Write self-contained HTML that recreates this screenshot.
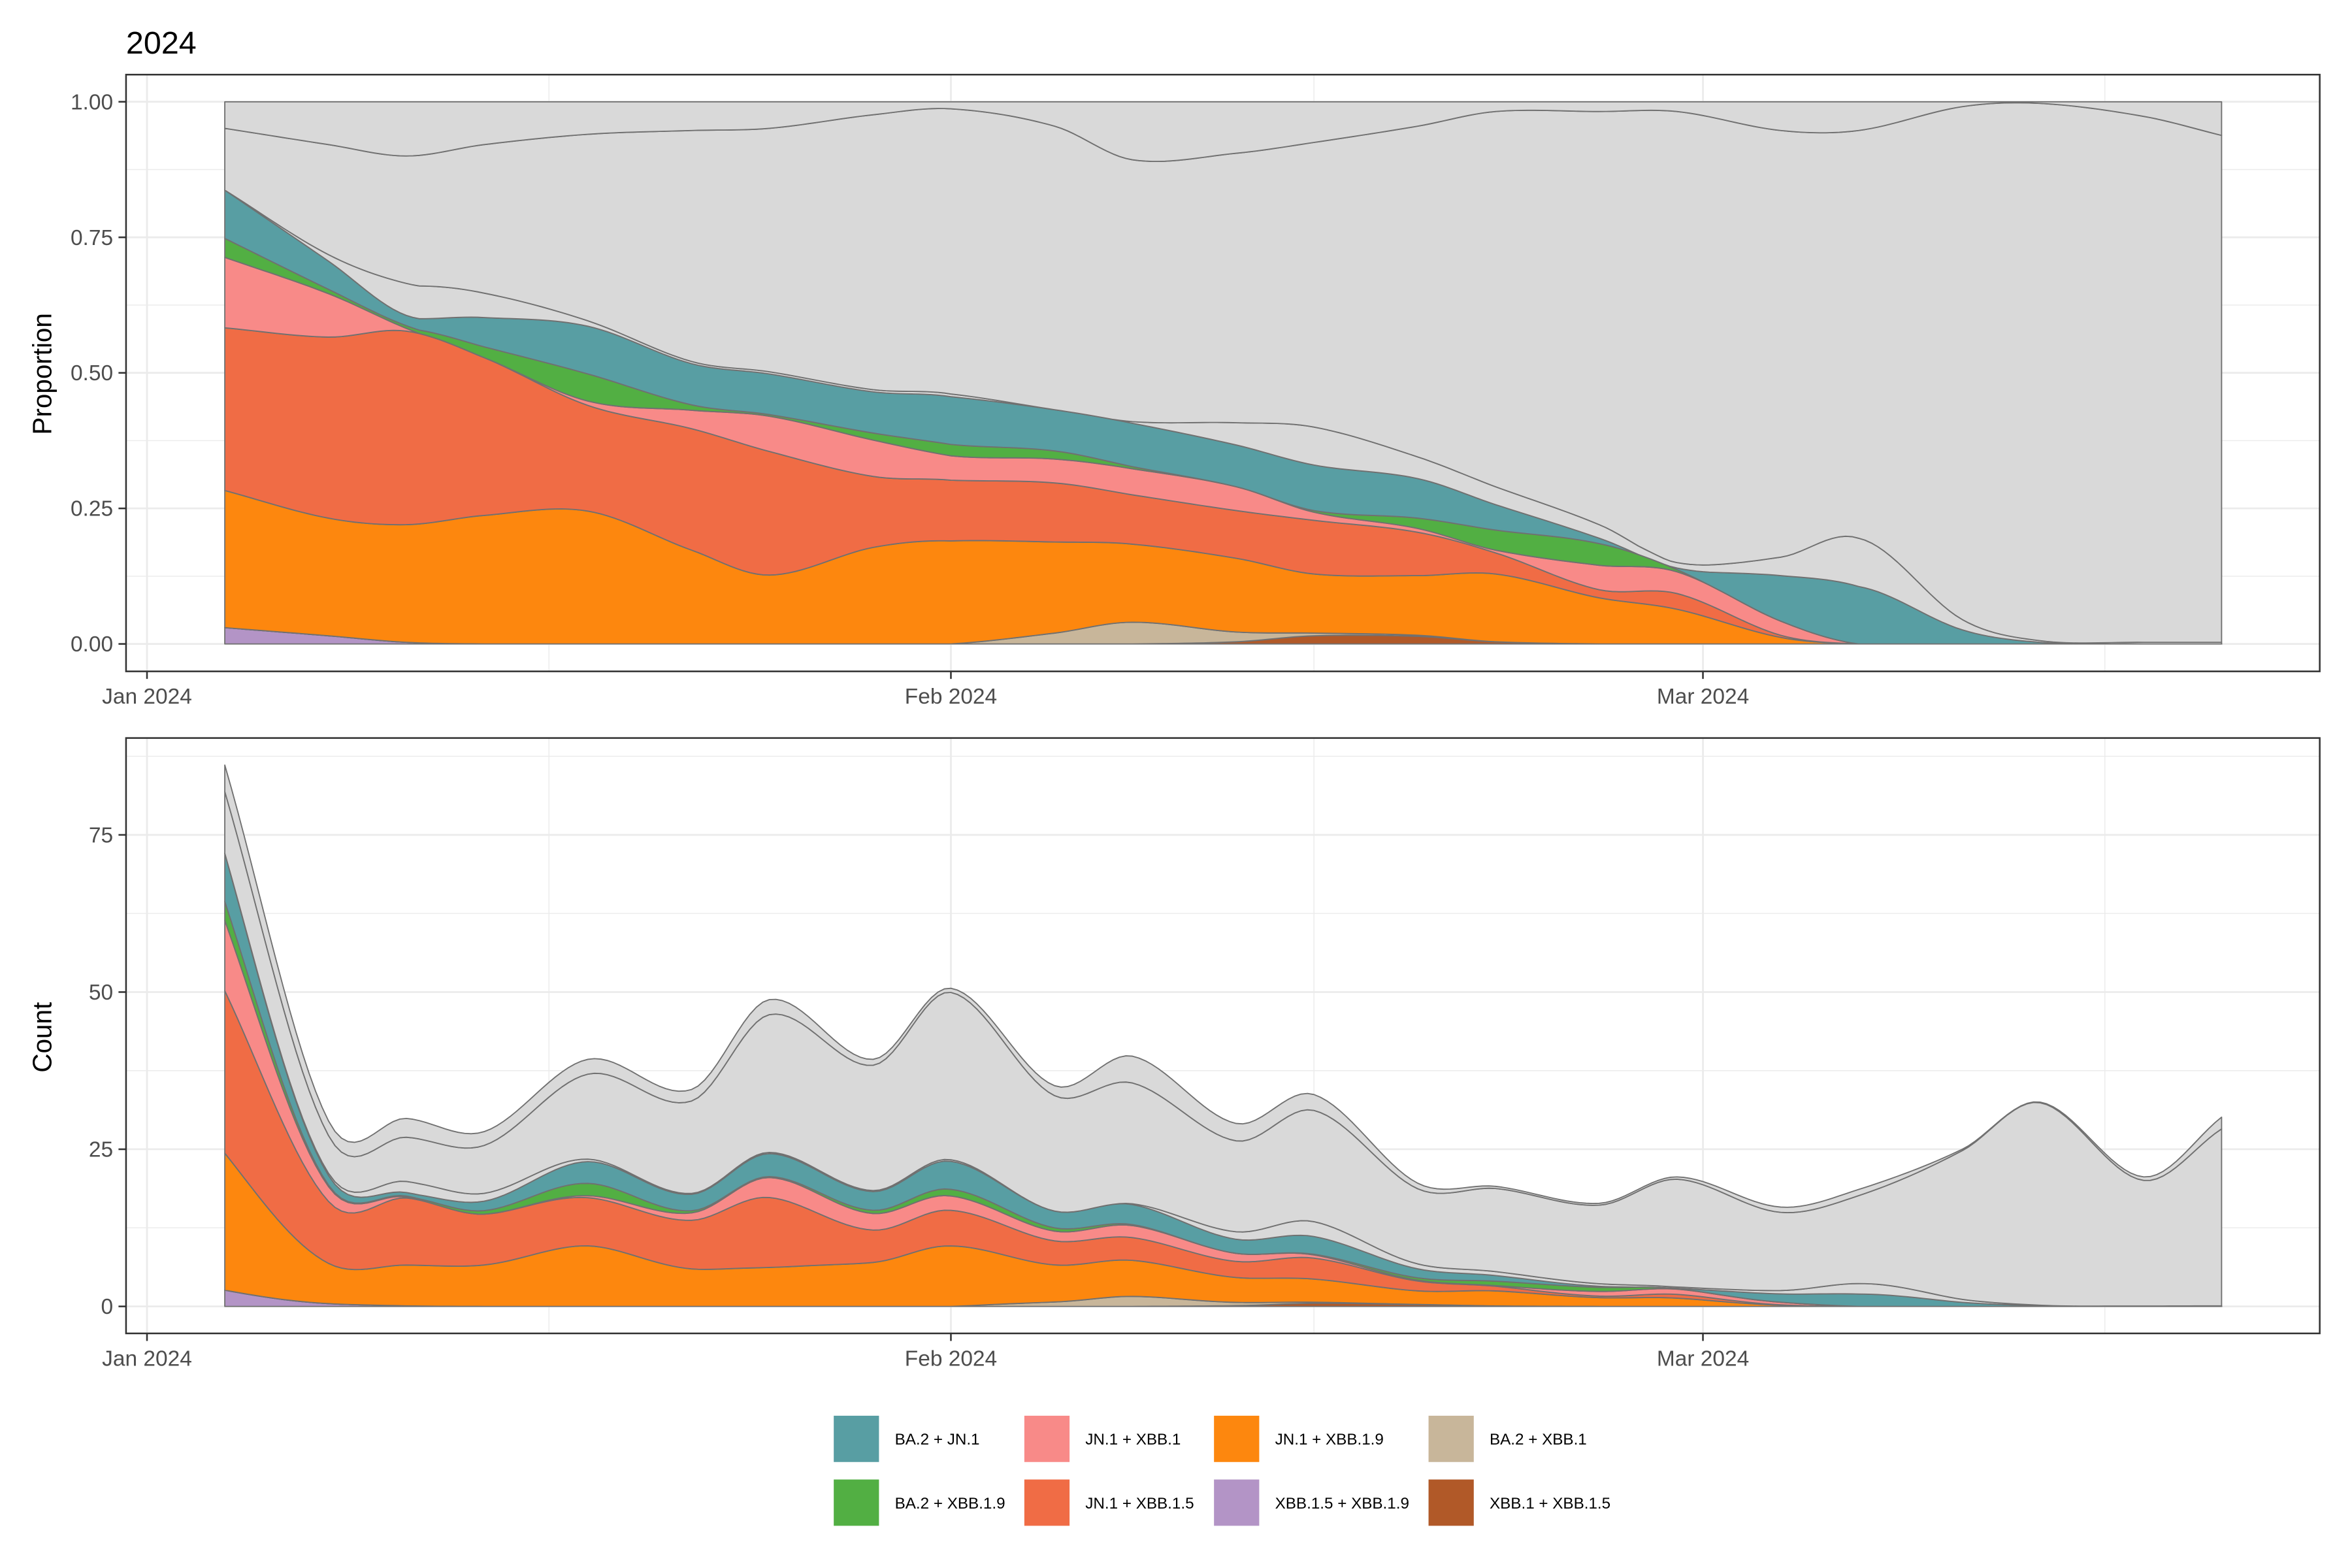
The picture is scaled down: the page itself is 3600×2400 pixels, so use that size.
<!DOCTYPE html>
<html><head><meta charset="utf-8">
<style>
html,body{margin:0;padding:0;background:#fff;}
svg{display:block;}
text{font-family:"Liberation Sans",Arial,sans-serif;}
</style></head>
<body>
<svg id="chart" width="3600" height="2400" viewBox="0 0 1560 1040" xmlns="http://www.w3.org/2000/svg">
<rect x="0" y="0" width="1560" height="1040" fill="#fff"/>
<text x="83.6" y="35.6" font-size="21" fill="#000">2024</text>
<g id="top"></g>
<g id="bottom"></g>
<text transform="translate(34,248) rotate(-90)" text-anchor="middle" font-size="17.5" fill="#000">Proportion</text>
<text transform="translate(34,688) rotate(-90)" text-anchor="middle" font-size="17.5" fill="#000">Count</text>
<g id="legend"></g>
</svg>
<script>
// ---- data (days since Jan 1 2024) ----
const days   = [3,7,10,13,17,21,24,28,31,35,38,42,45,49,52,56,59,63,66,70,73,77,80];
const purple = [.03,.015,.003,0,0,0,0,0,0,0,0,0,0,0,0,0,0,0,0,0,0,0,0];
const brown  = [0,0,0,0,0,0,0,0,0,0,0,.004,.015,.014,.004,0,0,0,0,0,0,0,0];
const tan    = [0,0,0,0,0,0,0,0,0,.02,.04,.018,.005,.002,0,0,0,0,0,0,0,0,0];
const orange = [.253,.217,.217,.237,.245,.173,.127,.178,.19,.168,.144,.136,.109,.11,.125,.085,.064,.012,0,0,0,0,0];
const red    = [.30,.334,.357,.291,.195,.224,.228,.131,.112,.109,.091,.088,.099,.08,.039,.015,.029,.004,0,0,0,0,0];
const pink   = [.13,.08,.005,0,.008,.034,.065,.067,.045,.044,.048,.044,.015,.007,.005,.045,.04,.026,0,0,0,0,0];
const green  = [.035,.008,.005,.02,.05,.01,.003,.013,.021,.015,.004,0,.003,.019,.037,.04,.004,0,0,0,0,0,0];
const teal   = [.089,.052,.019,.054,.088,.076,.075,.076,.088,.076,.08,.077,.084,.073,.047,.01,.003,.084,.106,.026,.003,0,0];
const grey1  = [0,.012,.059,.045,.01,.004,.004,.004,.005,0,.003,.041,.07,.04,.033,.025,.01,.034,.089,.019,.003,.003,.003];
const grey3  = [.049,.079,.10,.079,.06,.053,.049,.024,.013,.045,.107,.095,.075,.045,.018,.018,.018,.053,.053,.009,.003,.027,.062];
const totals = [86.1,29.5,29.9,27.8,39.3,34.5,48.8,39.3,50.6,35.1,39.8,29.1,33.7,19.6,19.1,16.4,20.6,15.8,18.6,25,32.5,20.6,30.1];
const propTicks = ["0.00","0.25","0.50","0.75","1.00"];
const countTicks = ["0","25","50","75"];
const dateTicks = [[0,"Jan 2024"],[31,"Feb 2024"],[60,"Mar 2024"]];

const NS="http://www.w3.org/2000/svg";
function mk(tag,attrs,parent){const e=document.createElementNS(NS,tag);for(const k in attrs)e.setAttribute(k,attrs[k]);parent.appendChild(e);return e;}
const xS=t=>97.5+17.2*t;
const topY=p=>427.1-359.6*p;
const botY=c=>866.5-4.17*c;

// Catmull-Rom style cubic Hermite interpolation (non-uniform knots)
function smooth(xs,ys){
  const n=xs.length,m=new Array(n);
  for(let i=0;i<n;i++){
    if(i===0)m[i]=(ys[1]-ys[0])/(xs[1]-xs[0]);
    else if(i===n-1)m[i]=(ys[n-1]-ys[n-2])/(xs[n-1]-xs[n-2]);
    else m[i]=(ys[i+1]-ys[i-1])/(xs[i+1]-xs[i-1]);
  }
  return x=>{let i=0;while(i<n-2&&x>xs[i+1])i++;const h=xs[i+1]-xs[i],t=(x-xs[i])/h,t2=t*t,t3=t2*t;
    return (2*t3-3*t2+1)*ys[i]+(t3-2*t2+t)*h*m[i]+(-2*t3+3*t2)*ys[i+1]+(t3-t2)*h*m[i+1];};
}
const layerDefs=[
 ["xbb15-xbb19",purple,"#b394c6"],["xbb1-xbb15",brown,"#b15928"],["ba2-xbb1",tan,"#c8b69a"],
 ["jn1-xbb19",orange,"#fd870e"],["jn1-xbb15",red,"#f06c45"],["jn1-xbb1",pink,"#f88a88"],
 ["ba2-xbb19",green,"#52af43"],["ba2-jn1",teal,"#589ea3"],["other-a",grey1,"#d9d9d9"],
 ["other-b",null,"#d9d9d9"],["other-c",grey3,"#d9d9d9"]];
const fns=layerDefs.map(l=>l[1]?smooth(days,l[1]):null);
const totF=smooth(days,totals);
const ts=[];for(let t=days[0];t<=days[days.length-1]+1e-9;t+=0.25)ts.push(t);
const cum=ts.map(t=>{const v=fns.map(f=>f?Math.max(0,f(t)):0);let s=v.reduce((a,b)=>a+b,0);v[9]=Math.max(0,1-s);s=v.reduce((a,b)=>a+b,0);
  const c=[0];let acc=0;v.forEach(x=>{acc+=x/s;c.push(acc);});return c;});

function panel(g,name,y0,y1,yFn,gridMaj,gridMin,labels,labVals,scaleTot){
  const pg=mk('g',{},g);
  
  
  const L=83.6,R=1538.6;
  gridMin.forEach(v=>{const y=yFn(v);const l=mk('line',{x1:L,x2:R,y1:y,y2:y,stroke:'#ebebeb','stroke-width':0.6},pg);});
  [15.5,45,75.5].forEach(t=>{const l=mk('line',{x1:xS(t),x2:xS(t),y1:y0,y2:y1,stroke:'#ebebeb','stroke-width':0.6},pg);});
  gridMaj.forEach(v=>{const y=yFn(v);const l=mk('line',{x1:L,x2:R,y1:y,y2:y,stroke:'#ebebeb','stroke-width':1.2},pg);});
  dateTicks.forEach(d=>{const l=mk('line',{x1:xS(d[0]),x2:xS(d[0]),y1:y0,y2:y1,stroke:'#ebebeb','stroke-width':1.2},pg);});
  layerDefs.forEach((ld,k)=>{
    let up='',dn='';
    ts.forEach((t,i)=>{const f=scaleTot?Math.max(0,totF(t)):1;const yu=yFn(cum[i][k+1]*f);
      up+=(i?'L':'M')+xS(t).toFixed(2)+','+yu.toFixed(2);});
    for(let i=ts.length-1;i>=0;i--){const f=scaleTot?Math.max(0,totF(ts[i])):1;dn+='L'+xS(ts[i]).toFixed(2)+','+yFn(cum[i][k]*f).toFixed(2);}
    const p=mk('path',{d:up+dn+'Z',fill:ld[2],stroke:'#707070','stroke-width':0.8,'stroke-linejoin':'round'},pg);
    
    
  });
  const b=mk('rect',{x:L,y:y0,width:R-L,height:y1-y0,fill:'none',stroke:'#333','stroke-width':1.1},pg);
  
  labels.forEach((s,i)=>{const y=yFn(labVals[i]);
    mk('line',{x1:78.6,x2:L,y1:y,y2:y,stroke:'#333','stroke-width':1.1},pg);
    const tx=mk('text',{x:75,y:y+5,'text-anchor':'end','font-size':14.5,fill:'#4d4d4d'},pg);tx.textContent=s;
    });
  dateTicks.forEach(d=>{const x=xS(d[0]);
    mk('line',{x1:x,x2:x,y1:y1,y2:y1+5,stroke:'#333','stroke-width':1.1},pg);
    const tx=mk('text',{x:x,y:y1+21.4,'text-anchor':'middle','font-size':14.5,fill:'#4d4d4d'},pg);tx.textContent=d[1];
    });
}
panel(document.getElementById('top'),'proportion-panel',49.5,445.3,topY,[0,.25,.5,.75,1],[.125,.375,.625,.875],propTicks,[0,.25,.5,.75,1],false);
panel(document.getElementById('bottom'),'count-panel',489.5,884.4,botY,[0,25,50,75],[12.5,37.5,62.5,87.5],countTicks,[0,25,50,75],true);

const leg=document.getElementById('legend');
const legItems=[["BA.2 + JN.1","#589ea3",553,939],["JN.1 + XBB.1","#f88a88",679.4,939],["JN.1 + XBB.1.9","#fd870e",805.2,939],["BA.2 + XBB.1","#c8b69a",947.5,939],
 ["BA.2 + XBB.1.9","#52af43",553,981.3],["JN.1 + XBB.1.5","#f06c45",679.4,981.3],["XBB.1.5 + XBB.1.9","#b394c6",805.2,981.3],["XBB.1 + XBB.1.5","#b15928",947.5,981.3]];
legItems.forEach(it=>{
  const g=mk('g',{},leg);
  
  
  const r=mk('rect',{x:it[2],y:it[3],width:30,height:30.7,fill:it[1]},g);
  
  
  const t=mk('text',{x:it[2]+40.5,y:it[3]+19.2,'font-size':10.5,fill:'#000'},g);t.textContent=it[0];
  
  
});
</script>
</body></html>
